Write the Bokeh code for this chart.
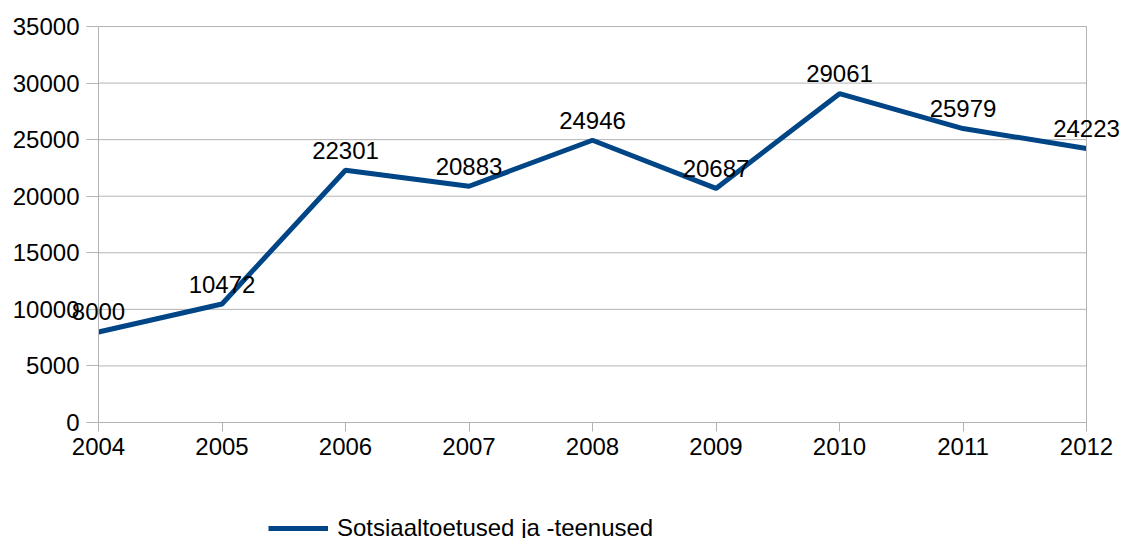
from bokeh.plotting import figure
from bokeh.models import (Range1d, FixedTicker, ColumnDataSource, Label, Legend,
                          LegendItem, LinearAxis)
from bokeh.embed import file_html
from bokeh.resources import INLINE

years = [2004, 2005, 2006, 2007, 2008, 2009, 2010, 2011, 2012]
values = [8000, 10472, 22301, 20883, 24946, 20687, 29061, 25979, 24223]
y_ticks = [0, 5000, 10000, 15000, 20000, 25000, 30000, 35000]
series_name = "Sotsiaaltoetused ja -teenused"

FONT = "Liberation Sans"
GRID = "#b3b3b3"
BLUE = "#004586"

W, H = 1125, 538
# pixel placement of the plot area inside the canvas
PL, PR, PT, PB = 98, 1086, 26, 422
x0, x1 = years[0], years[-1]
y0, y1 = y_ticks[0], y_ticks[-1]
xs = (PR - PL) / (x1 - x0)
ys = (PB - PT) / (y1 - y0)
x_range = Range1d(x0 - PL / xs, x1 + (W - PR) / xs)
y_range = Range1d(y0 - (H - PB) / ys, y1 + PT / ys)

src = ColumnDataSource(dict(x=years, y=values))

p = figure(width=W, height=H, output_backend="svg", toolbar_location=None,
           x_range=x_range, y_range=y_range, x_axis_location=None,
           y_axis_location=None, min_border=0)
p.background_fill_color = "white"
p.border_fill_color = "white"
p.outline_line_color = None
p.xgrid.grid_line_color = None
p.ygrid.grid_line_color = None

# horizontal gridlines spanning only the plot area
p.segment(x0=[x0] * len(y_ticks), x1=[x1] * len(y_ticks), y0=y_ticks, y1=y_ticks,
          line_color=GRID, line_width=1)

r = p.line("x", "y", source=src, line_color=BLUE, line_width=5)

for xv, yv in zip(years, values):
    p.add_layout(Label(x=xv, y=yv, text=str(yv), text_align="center",
                       text_baseline="alphabetic", y_offset=20, text_font=FONT,
                       text_font_size="24px", text_color="black"))

xaxis = LinearAxis(fixed_location=y0, bounds=(x0, x1), ticker=FixedTicker(ticks=years))
yaxis = LinearAxis(fixed_location=x0, bounds=(y0, y1), ticker=FixedTicker(ticks=y_ticks))
raxis = LinearAxis(fixed_location=x1, bounds=(y0, y1), ticker=FixedTicker(ticks=[]),
                   major_label_text_color=None, major_tick_line_color=None)
raxis.axis_line_color = GRID
raxis.minor_tick_line_color = None
for ax in (xaxis, yaxis):
    ax.axis_line_color = GRID
    ax.major_tick_line_color = GRID
    ax.minor_tick_line_color = None
    ax.major_tick_in = 0
    ax.major_label_text_font = FONT
    ax.major_label_text_font_size = "24px"
    ax.major_label_text_color = "black"
xaxis.major_tick_out = 9
yaxis.major_tick_out = 12
xaxis.major_label_standoff = 6
yaxis.major_label_standoff = 7
p.add_layout(xaxis, "below")
p.add_layout(yaxis, "left")
p.add_layout(raxis, "right")

legend = Legend(items=[LegendItem(label=series_name, renderers=[r])],
                location=(268, -4), padding=0, margin=0, glyph_width=60,
                glyph_height=24, label_height=24, label_standoff=9,
                label_text_font=FONT, label_text_font_size="24px",
                label_text_color="black",
                border_line_color=None, background_fill_alpha=0)
p.add_layout(legend)

open("out.html", "w").write(file_html(p, INLINE))
